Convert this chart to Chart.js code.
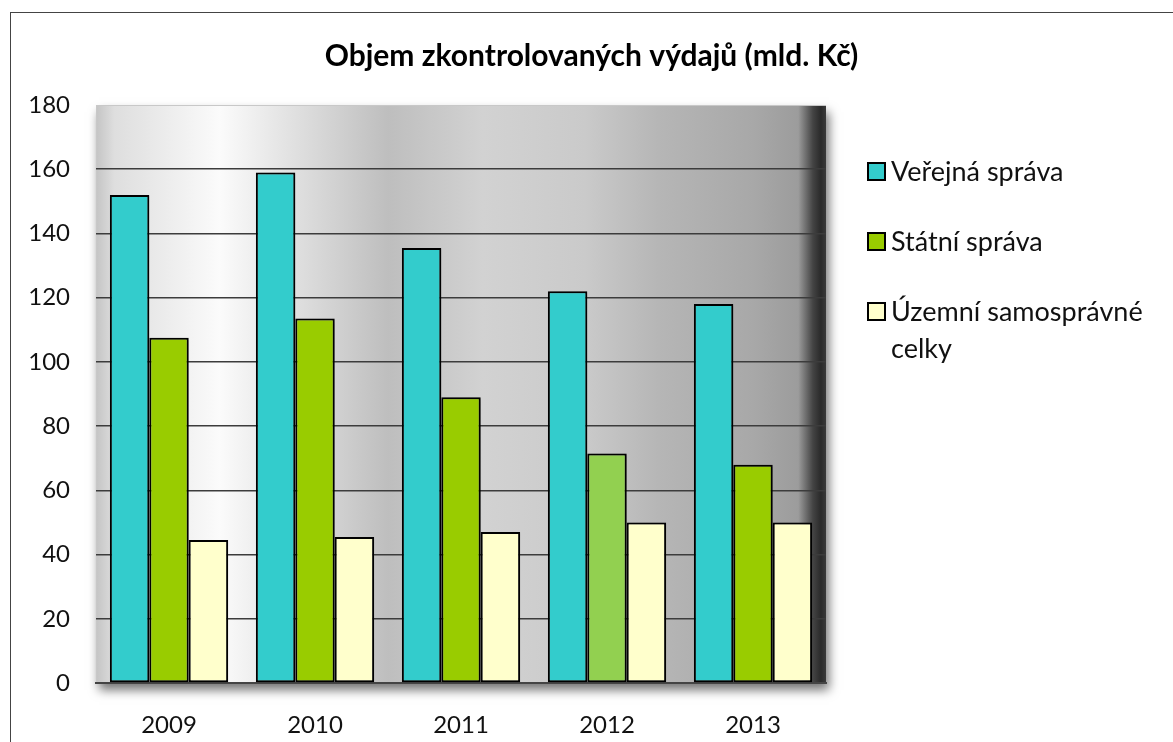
<!DOCTYPE html>
<html>
<head>
<meta charset="utf-8">
<script src="https://cdn.jsdelivr.net/npm/chart.js@4.4.1/dist/chart.umd.min.js"></script>
<style>
  html, body { margin: 0; padding: 0; background: #fff; }
  #wrap { position: relative; width: 1173px; height: 742px; overflow: hidden; }
  #frame { position: absolute; left: 10px; top: 12px; width: 1300px; height: 900px;
           border-top: 1.5px solid #444; border-left: 1.5px solid #444; }
  canvas { position: absolute; left: 0; top: 0; }
</style>
</head>
<body>
<div id="wrap">
  <div id="frame"></div>
  <canvas id="myChart" width="1173" height="742"></canvas>
</div>
<script>
// data
const categories = ['2009', '2010', '2011', '2012', '2013'];
const verejnaSprava = [152, 159, 135.5, 122, 118];
const statniSprava = [107.5, 113.5, 89, 71.5, 68];
const uzemniCelky = [44.5, 45.5, 47, 50, 50];
const seriesNames = ['Veřejná správa', 'Státní správa', 'Územní samosprávné celky'];
const yTicks = [0, 20, 40, 60, 80, 100, 120, 140, 160, 180];
const chartTitle = 'Objem zkontrolovaných výdajů (mld. Kč)';

const font = 'Lato, "Open Sans", sans-serif';

// gradient behind the bars
const plotBg = {
  id: 'plotBg',
  beforeDraw(chart) {
    const ctx = chart.ctx, a = chart.chartArea;
    const w = a.right - a.left;
    ctx.save();
    ctx.shadowColor = 'rgba(0,0,0,0.55)';
    ctx.shadowBlur = 10;
    ctx.shadowOffsetX = 3;
    ctx.shadowOffsetY = 7;
    ctx.fillStyle = '#bbb';
    ctx.fillRect(a.left, a.top, w, a.bottom - a.top);
    ctx.restore();
    const g = ctx.createLinearGradient(a.left, 0, a.right, 0);
    g.addColorStop(0, '#c4c4c4');
    g.addColorStop(0.025, '#dedede');
    g.addColorStop(0.17, '#fbfbfb');
    g.addColorStop(0.40, '#bebebe');
    g.addColorStop(0.53, '#d2d2d2');
    g.addColorStop(0.67, '#cacaca');
    g.addColorStop(0.77, '#b6b6b6');
    g.addColorStop(0.90, '#a8a8a8');
    g.addColorStop(0.962, '#9c9c9c');
    g.addColorStop(0.982, '#444');
    g.addColorStop(0.993, '#2a2a2a');
    g.addColorStop(1, '#3a3a3a');
    ctx.fillStyle = g;
    ctx.fillRect(a.left, a.top, w, a.bottom - a.top);
    ctx.strokeStyle = '#c8c8c8';
    ctx.lineWidth = 1;
    ctx.beginPath();
    ctx.moveTo(a.left + 0.5, a.bottom);
    ctx.lineTo(a.left + 0.5, a.top + 0.5);
    ctx.lineTo(a.right, a.top + 0.5);
    ctx.stroke();
  }
};

// soft shadow on bars
const barShadow = {
  id: 'barShadow',
  beforeDatasetsDraw(chart) {
    const ctx = chart.ctx;
    ctx.save();
    ctx.shadowColor = 'rgba(0,0,0,0.3)';
    ctx.shadowBlur = 3;
    ctx.shadowOffsetX = 2;
    ctx.shadowOffsetY = 1;
  },
  afterDatasetsDraw(chart) {
    chart.ctx.restore();
  }
};

// legend on the right, wraps long names
const sideLegend = {
  id: 'sideLegend',
  afterDraw(chart) {
    const ctx = chart.ctx;
    const boxX = 868, textX = 891, maxW = 270;
    const ys = [171, 241, 311];
    ctx.save();
    ctx.font = '27px ' + font;
    ctx.textBaseline = 'middle';
    ctx.textAlign = 'left';
    chart.data.datasets.forEach((ds, i) => {
      const y = ys[i];
      const c = Array.isArray(ds.backgroundColor) ? ds.backgroundColor[0] : ds.backgroundColor;
      ctx.fillStyle = c;
      ctx.fillRect(boxX, y - 8, 17, 17);
      ctx.strokeStyle = '#000';
      ctx.lineWidth = 2;
      ctx.strokeRect(boxX, y - 8, 17, 17);
      // word wrap
      const words = ds.label.split(' ');
      const lines = [];
      let cur = '';
      words.forEach(wd => {
        const t = cur ? cur + ' ' + wd : wd;
        if (ctx.measureText(t).width > maxW && cur) { lines.push(cur); cur = wd; }
        else cur = t;
      });
      lines.push(cur);
      ctx.fillStyle = '#111';
      lines.forEach((ln, k) => ctx.fillText(ln, textX, y + 1 + k * 37));
    });
    ctx.restore();
  }
};

const ctx = document.getElementById('myChart');
new Chart(ctx, {
  type: 'bar',
  data: {
    labels: categories,
    datasets: [
      { label: seriesNames[0], data: verejnaSprava, backgroundColor: '#33cccc' },
      { label: seriesNames[1], data: statniSprava,
        backgroundColor: ['#99cc00', '#99cc00', '#99cc00', '#92d050', '#99cc00'] },
      { label: seriesNames[2], data: uzemniCelky, backgroundColor: '#ffffcc' }
    ]
  },
  options: {
    responsive: false,
    animation: false,
    layout: { padding: { left: 10, right: 0, top: 0, bottom: 0 } },
    datasets: {
      bar: {
        borderColor: '#000',
        borderWidth: 2,
        borderSkipped: false,
        categoryPercentage: 0.81,
        barPercentage: 1
      }
    },
    plugins: {
      legend: { display: false },
      tooltip: { enabled: false },
      title: {
        display: true,
        text: chartTitle,
        color: '#000',
        font: { family: font, size: 30, weight: 'bold', lineHeight: 1.2 },
        padding: { top: 38, bottom: 31 }
      }
    },
    scales: {
      x: {
        grid: { display: false },
        border: { display: true, color: '#444', width: 2 },
        ticks: { color: '#111', font: { family: font, size: 24 }, padding: 20 },
        afterFit: s => { s.height = 59; }
      },
      y: {
        min: 0,
        max: 180,
        afterBuildTicks: s => { s.ticks = yTicks.map(v => ({ value: v })); },
        grid: {
          drawTicks: false,
          color: c => (c.tick && c.tick.value === 180) ? 'rgba(0,0,0,0)' : '#3c3c3c',
          lineWidth: 1.5
        },
        border: { display: false },
        ticks: { color: '#111', font: { family: font, size: 24 }, padding: 26 },
        afterFit: s => { s.width = 86; }
      },
      side: {
        position: 'right',
        grid: { display: false },
        border: { display: false },
        ticks: { display: false },
        afterFit: s => { s.width = 347; }
      }
    }
  },
  plugins: [plotBg, barShadow, sideLegend]
});
</script>
</body>
</html>
